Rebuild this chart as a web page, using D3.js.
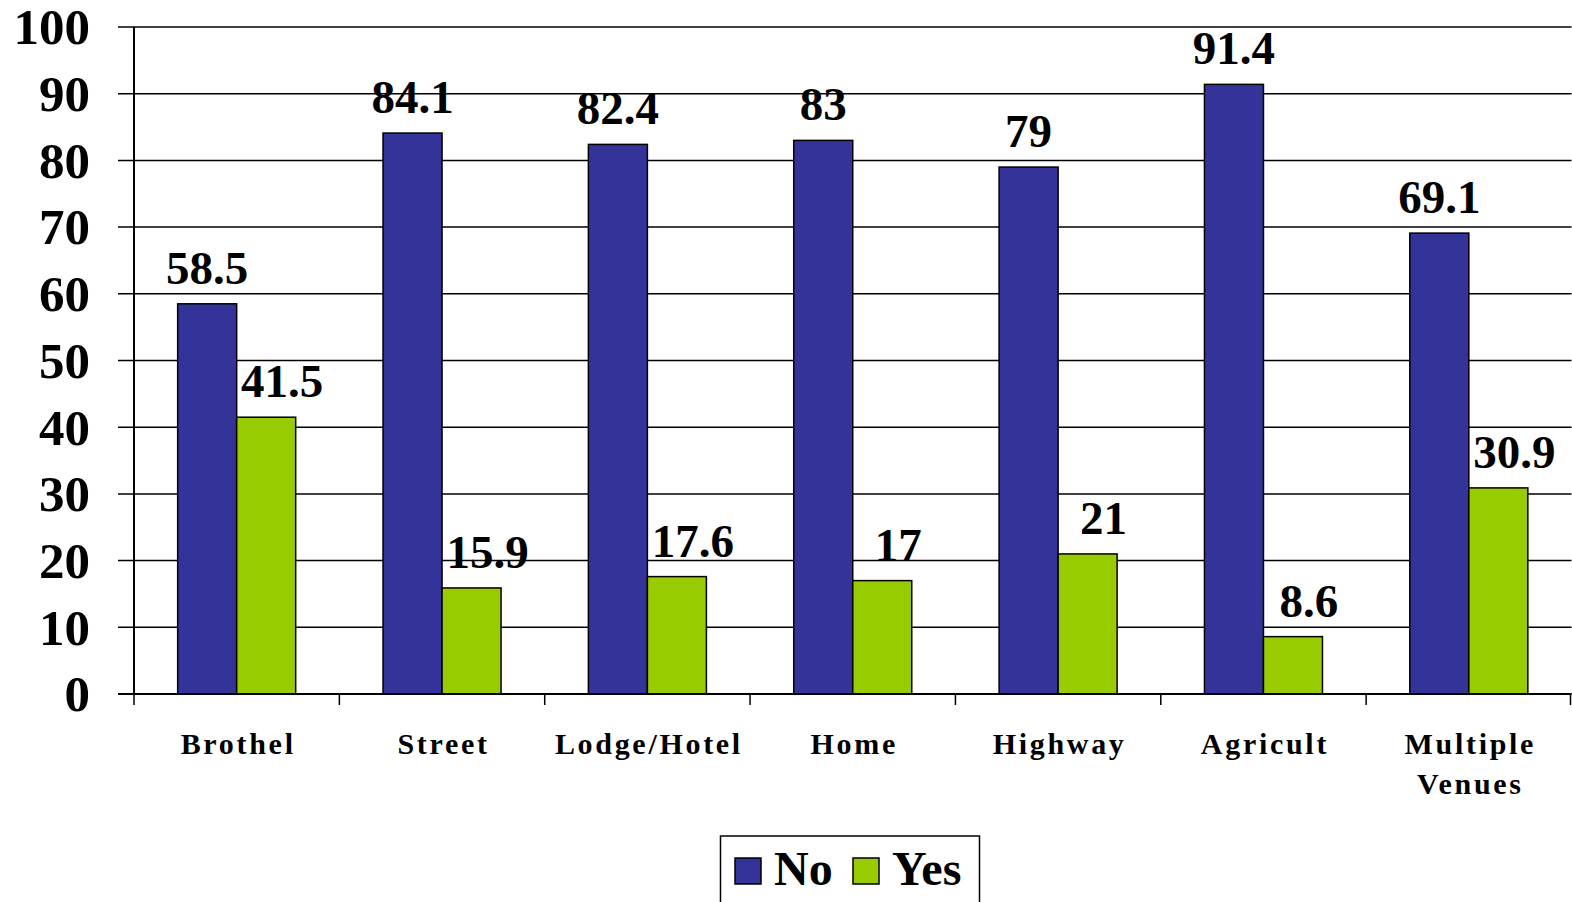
<!DOCTYPE html>
<html>
<head>
<meta charset="utf-8">
<script src="https://cdn.jsdelivr.net/npm/d3@7/dist/d3.min.js"></script>
<style>
  body { margin: 0; background: #fff; }
  svg { display: block; }
  text { font-family: "Liberation Serif", "Times New Roman", serif; font-weight: bold; fill: #000; }
</style>
</head>
<body>
<script>
// chart data
var categories = ["Brothel", "Street", "Lodge/Hotel", "Home", "Highway", "Agricult", "Multiple Venues"];
var seriesNames = ["No", "Yes"];
var noValues = [58.5, 84.1, 82.4, 83, 79, 91.4, 69.1];
var yesValues = [41.5, 15.9, 17.6, 17, 21, 8.6, 30.9];
var yTicks = [0, 10, 20, 30, 40, 50, 60, 70, 80, 90, 100];

var colors = { "No": "#333399", "Yes": "#99cc00" };

// note: "top" is a reserved window property, so plot edges get their own names
var width = 1572, height = 902,
    plotLeft = 134, plotRight = 1571.5,
    plotTop = 27, plotBottom = 694;

var svg = d3.select("body")
  .append("svg")
    .attr("width", width)
    .attr("height", height);

var x0 = d3.scaleBand()
  .domain(categories)
  .range([plotLeft, plotRight])
  .padding(0);

var x1 = d3.scaleBand()
  .domain(seriesNames)
  .range([0, x0.bandwidth()])
  .paddingInner(0)
  .paddingOuter(0.74);

var y = d3.scaleLinear()
  .domain([0, 100])
  .range([plotBottom, plotTop]);

var rows = categories.map(function(c, i) {
  return { cat: c, values: [ { key: "No", v: noValues[i] }, { key: "Yes", v: yesValues[i] } ] };
});

// gridlines
svg.append("g")
  .selectAll("line")
  .data(yTicks)
  .enter()
  .append("line")
    .attr("x1", plotLeft - 16)
    .attr("x2", plotRight)
    .attr("y1", function(d){ return y(d); })
    .attr("y2", function(d){ return y(d); })
    .attr("stroke", "#000")
    .attr("stroke-width", 1.5);

// y axis labels
svg.append("g")
  .selectAll("text")
  .data(yTicks)
  .enter()
  .append("text")
    .attr("x", 90)
    .attr("y", function(d){ return y(d); })
    .attr("dy", "0.34em")
    .attr("text-anchor", "end")
    .style("font-size", "51px")
    .text(function(d){ return d; });

// y axis line
svg.append("line")
  .attr("x1", plotLeft).attr("x2", plotLeft)
  .attr("y1", plotTop).attr("y2", plotBottom)
  .attr("stroke", "#000")
  .attr("stroke-width", 2);

// x tick marks at category boundaries
var boundaries = categories.map(function(c){ return x0(c); }).concat([plotRight - 1]);
svg.append("g")
  .selectAll("line")
  .data(boundaries)
  .enter()
  .append("line")
    .attr("x1", function(d){ return d; })
    .attr("x2", function(d){ return d; })
    .attr("y1", plotBottom)
    .attr("y2", plotBottom + 11)
    .attr("stroke", "#000")
    .attr("stroke-width", 1.5);

// bars
var groups = svg.append("g")
  .selectAll("g")
  .data(rows)
  .enter()
  .append("g")
    .attr("transform", function(d){ return "translate(" + x0(d.cat) + ",0)"; });

groups.selectAll("rect")
  .data(function(d){ return d.values; })
  .enter()
  .append("rect")
    .attr("x", function(d){ return x1(d.key); })
    .attr("y", function(d){ return y(d.v); })
    .attr("width", x1.bandwidth())
    .attr("height", function(d){ return y(0) - y(d.v); })
    .attr("fill", function(d){ return colors[d.key]; })
    .attr("stroke", "#000")
    .attr("stroke-width", 1.5);

// value labels (the "Yes" ones sit a bit to the right, clear of the blue bar)
groups.selectAll("text")
  .data(function(d){ return d.values; })
  .enter()
  .append("text")
    .attr("x", function(d){ return x1(d.key) + x1.bandwidth() / 2 + (d.key === "Yes" ? 16 : 0); })
    .attr("y", function(d){ return y(d.v) - 20; })
    .attr("text-anchor", "middle")
    .style("font-size", "47px")
    .text(function(d){ return d.v; });

// x axis line
svg.append("line")
  .attr("x1", plotLeft - 16).attr("x2", plotRight)
  .attr("y1", plotBottom).attr("y2", plotBottom)
  .attr("stroke", "#000")
  .attr("stroke-width", 2);

// category labels
var catLabels = svg.append("g")
  .selectAll("text")
  .data(categories)
  .enter()
  .append("text")
    .attr("x", function(d){ return x0(d) + x0.bandwidth() / 2 + 1.5; })
    .attr("y", 754)
    .attr("text-anchor", "middle")
    .style("font-size", "30px")
    .style("letter-spacing", "2.7px");

catLabels.each(function(d) {
  var words = d.split(" ");
  var el = d3.select(this);
  var cx = +el.attr("x");
  words.forEach(function(w, i) {
    el.append("tspan")
      .attr("x", cx)
      .attr("dy", i === 0 ? 0 : 40)
      .text(w);
  });
});

// legend
var legend = svg.append("g");
legend.append("rect")
  .attr("x", 720.5).attr("y", 836)
  .attr("width", 259).attr("height", 80)
  .attr("fill", "#fff")
  .attr("stroke", "#000")
  .attr("stroke-width", 1.5);

var legendX = { "No": 735, "Yes": 853 };
seriesNames.forEach(function(s) {
  legend.append("rect")
    .attr("x", legendX[s]).attr("y", 858)
    .attr("width", 26).attr("height", 26)
    .attr("fill", colors[s])
    .attr("stroke", "#000")
    .attr("stroke-width", 1.5);
  legend.append("text")
    .attr("x", legendX[s] + 39)
    .attr("y", 885)
    .style("font-size", "48px")
    .text(s);
});
</script>
</body>
</html>
